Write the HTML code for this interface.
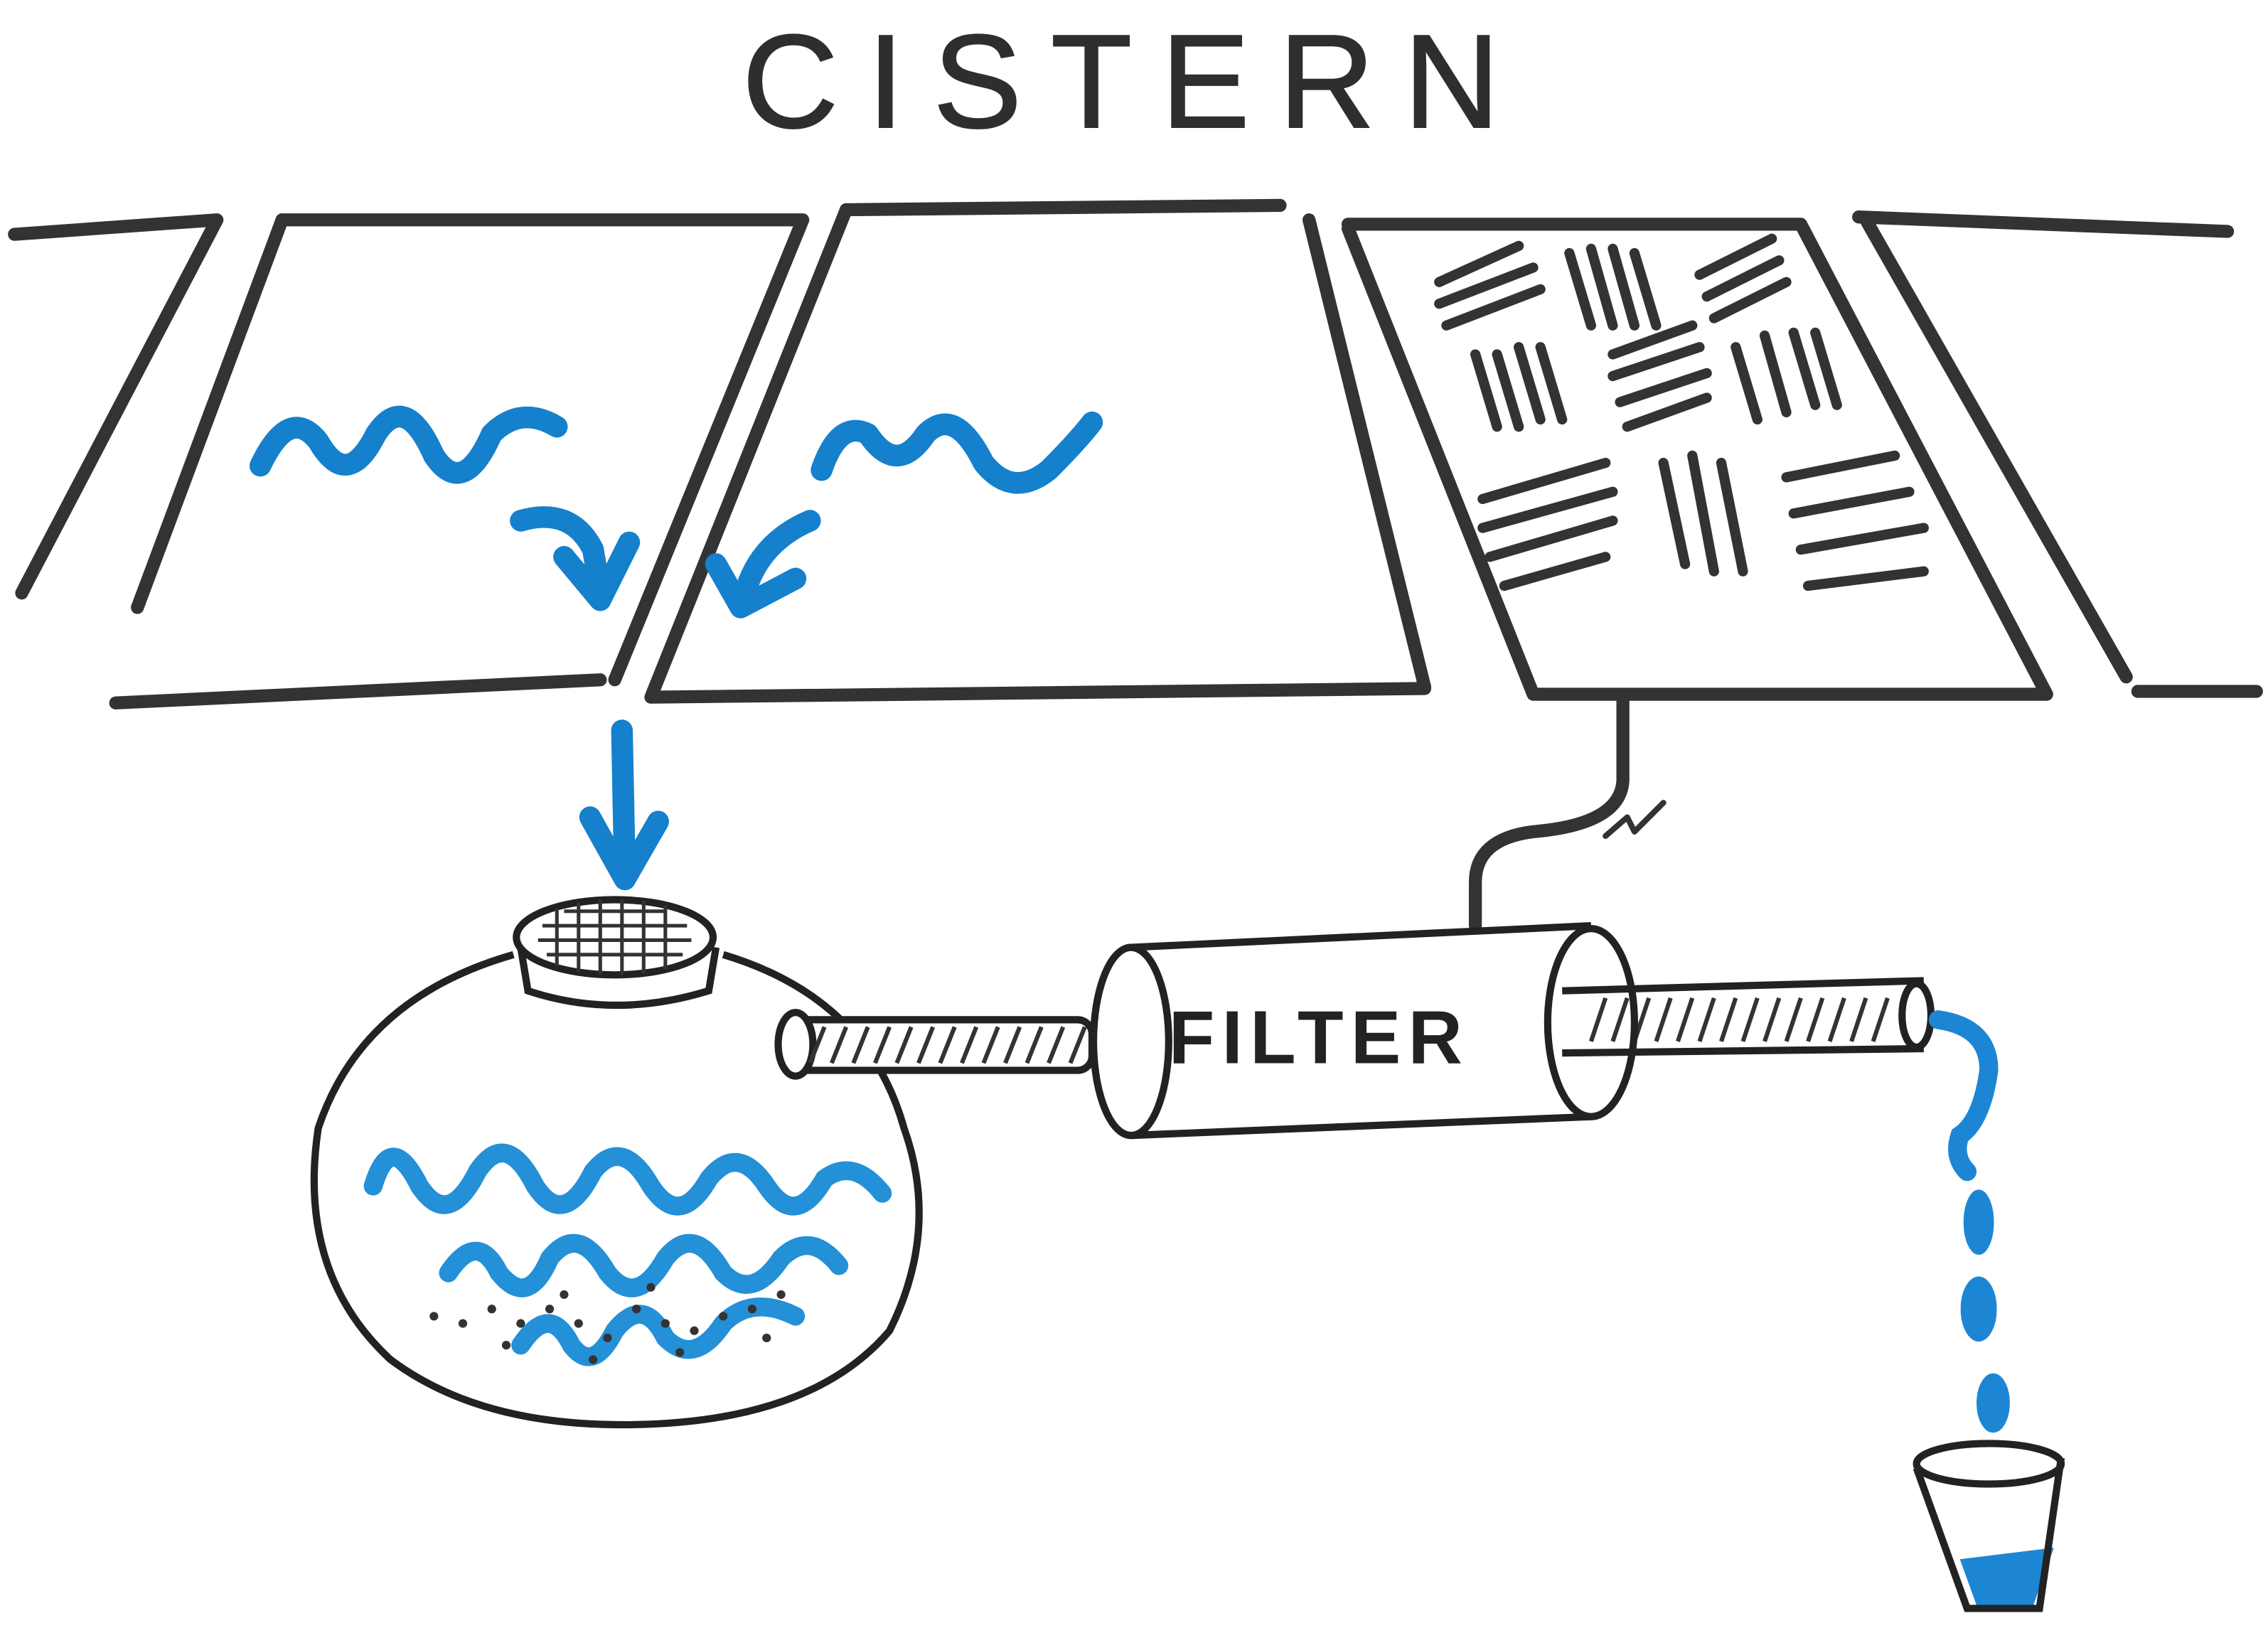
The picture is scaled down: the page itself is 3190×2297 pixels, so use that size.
<!DOCTYPE html>
<html><head><meta charset="utf-8"><style>
html,body{margin:0;padding:0;background:#fff;}
svg{display:block;}
</style></head><body>
<svg width="3190" height="2297" viewBox="0 0 1568 1129" preserveAspectRatio="none" xmlns="http://www.w3.org/2000/svg">
<rect width="1568" height="1129" fill="#fff"/>
<text x="785" y="88" text-anchor="middle" font-family="Liberation Sans, sans-serif" font-size="92" letter-spacing="20" fill="#2e2e30" stroke="#2e2e30" stroke-width="1">CISTERN</text>
<g fill="none" stroke="#333336" stroke-width="9" stroke-linecap="round" stroke-linejoin="round">
<path d="M10 162 L150 152 L15 410"/>
<path d="M195 152 L555 152 L425 470"/>
<path d="M195 152 L95 420"/>
<path d="M80 486 L415 470"/>
<path d="M585 145 L885 142"/>
<path d="M585 145 L450 482 L985 476"/>
<path d="M905 152 L985 475"/>
<path d="M932 155 L1245 155 L1415 480 L1060 480 L932 158"/>
<path d="M1285 150 L1540 160"/>
<path d="M1290 152 L1470 468"/>
<path d="M1478 478 L1560 478"/>
<path d="M1122 485 L1122 540 Q1120 570 1060 575 Q1020 580 1020 610 L1020 640"/>
<path d="M1110 578 L1125 565 L1130 575 L1150 555" stroke-width="4"/>
</g>
<g stroke="#333336" stroke-width="7" stroke-linecap="round">
<path d="M995 195 L1050 170 M995 210 L1060 185 M1000 225 L1065 200"/>
<path d="M1085 175 L1100 225 M1100 172 L1115 225 M1115 172 L1130 225 M1130 175 L1145 225"/>
<path d="M1175 190 L1225 165 M1180 205 L1230 180 M1185 220 L1235 195"/>
<path d="M1020 245 L1035 295 M1035 245 L1050 295 M1050 240 L1065 290 M1065 240 L1080 290"/>
<path d="M1115 245 L1170 225 M1115 260 L1175 240 M1120 278 L1180 258 M1125 295 L1180 275"/>
<path d="M1200 240 L1215 290 M1220 232 L1235 285 M1240 230 L1255 280 M1255 230 L1270 280"/>
<path d="M1025 345 L1110 320 M1025 365 L1115 340 M1030 385 L1115 360 M1040 405 L1110 385"/>
<path d="M1150 320 L1165 390 M1170 315 L1185 395 M1190 320 L1205 395"/>
<path d="M1235 330 L1310 315 M1240 355 L1320 340 M1245 380 L1330 365 M1250 405 L1330 395"/>
</g>
<g fill="none" stroke="#1580cc" stroke-width="15" stroke-linecap="round" stroke-linejoin="round">
<path d="M180 322 Q200 280 220 305 Q240 340 260 300 Q280 270 300 315 Q320 345 340 300 Q360 280 385 295"/>
<path d="M360 360 Q395 350 410 380 L415 410"/>
<path d="M390 385 L415 415 L435 375"/>
<path d="M568 325 Q580 290 600 300 Q620 330 640 300 Q660 280 680 320 Q700 345 725 325 Q745 305 755 292"/>
<path d="M560 360 Q525 375 515 410"/>
<path d="M495 390 L512 420 L550 400"/>
<path d="M430 505 L432 605"/>
<path d="M408 565 L432 608 L455 568"/>
</g>
<g fill="none" stroke="#222" stroke-width="5">
<path d="M355 660 Q250 690 220 780 Q205 880 270 940 Q330 985 430 985 Q560 985 615 920 Q650 850 625 780 Q600 690 500 660"/>
<ellipse cx="425" cy="648" rx="68" ry="26" fill="#fff"/>
<path d="M360 655 L365 685 Q425 705 490 685 L495 655"/>
</g>
<g stroke="#333" stroke-width="2.5">
<path d="M375 640 L475 640 M372 650 L478 650 M378 660 L472 660 M390 630 L460 630"/>
<path d="M385 628 L385 668 M400 624 L400 672 M415 622 L415 674 M430 622 L430 674 M445 623 L445 673 M460 626 L460 670"/>
</g>
<g fill="none" stroke="#2390d8" stroke-width="13" stroke-linecap="round">
<path d="M258 820 Q270 780 290 820 Q310 850 330 810 Q350 780 370 820 Q390 850 410 810 Q430 785 450 820 Q470 850 490 815 Q510 790 530 820 Q550 850 570 815 Q590 800 610 825"/>
<path d="M310 880 Q330 850 345 880 Q365 905 380 870 Q400 845 420 880 Q440 905 460 870 Q480 845 500 880 Q520 900 540 870 Q560 850 580 875"/>
<path d="M360 930 Q380 900 395 930 Q410 950 425 920 Q445 895 460 925 Q480 945 500 915 Q520 895 550 910"/>
</g>
<g fill="#333">
<circle cx="300" cy="910" r="3"/><circle cx="320" cy="915" r="3"/><circle cx="340" cy="905" r="3"/><circle cx="360" cy="915" r="3"/><circle cx="380" cy="905" r="3"/><circle cx="400" cy="915" r="3"/><circle cx="420" cy="925" r="3"/><circle cx="440" cy="905" r="3"/><circle cx="460" cy="915" r="3"/><circle cx="480" cy="920" r="3"/><circle cx="500" cy="910" r="3"/><circle cx="520" cy="905" r="3"/><circle cx="540" cy="895" r="3"/><circle cx="350" cy="930" r="3"/><circle cx="410" cy="940" r="3"/><circle cx="470" cy="935" r="3"/><circle cx="530" cy="925" r="3"/><circle cx="390" cy="895" r="3"/><circle cx="450" cy="890" r="3"/>
</g>
<g stroke="#222" stroke-width="5" fill="#fff">
<rect x="545" y="705" width="210" height="35" rx="10"/>
<ellipse cx="550" cy="722" rx="12" ry="22"/>
</g>
<g stroke="#333" stroke-width="3">
<path d="M560 735 L570 710 M575 735 L585 710 M590 735 L600 710 M605 735 L615 710 M620 735 L630 710 M635 735 L645 710 M650 735 L660 710 M665 735 L675 710 M680 735 L690 710 M695 735 L705 710 M710 735 L720 710 M725 735 L735 710 M740 735 L750 710"/>
<path d="M1100 720 L1110 690 M1115 720 L1125 690 M1130 720 L1140 690 M1145 720 L1155 690 M1160 720 L1170 690 M1175 720 L1185 690 M1190 720 L1200 690 M1205 720 L1215 690 M1220 720 L1230 690 M1235 720 L1245 690 M1250 720 L1260 690 M1265 720 L1275 690 M1280 720 L1290 690 M1295 720 L1305 690"/>
</g>
<g stroke="#222" stroke-width="5" fill="none">
<path d="M782 655 L1100 640 M782 785 L1100 772"/>
<ellipse cx="782" cy="720" rx="26" ry="65" fill="#fff"/>
<ellipse cx="1100" cy="707" rx="30" ry="65"/>
<path d="M1080 685 L1330 678 M1080 728 L1330 725"/>
<ellipse cx="1325" cy="702" rx="10" ry="22"/>
</g>
<text x="912" y="735" text-anchor="middle" font-family="Liberation Sans, sans-serif" font-size="52" letter-spacing="5" font-weight="bold" fill="#222">FILTER</text>
<g fill="#1c86d4" stroke="#1c86d4" stroke-linecap="round">
<path d="M1340 705 Q1375 710 1375 740 Q1370 775 1355 785 Q1350 800 1360 810" fill="none" stroke-width="13"/>
<ellipse cx="1368" cy="845" rx="10" ry="22"/>
<ellipse cx="1368" cy="905" rx="12" ry="22"/>
<ellipse cx="1378" cy="970" rx="11" ry="20"/>
</g>
<g>
<path d="M1355 1078 L1420 1070 L1405 1112 L1368 1114 Z" fill="#1c86d4"/>
<path d="M1325 1015 L1360 1112 L1410 1112 L1425 1008" fill="none" stroke="#222" stroke-width="5"/>
<ellipse cx="1375" cy="1012" rx="50" ry="14" fill="none" stroke="#222" stroke-width="5"/>
</g>
</svg>
</body></html>
